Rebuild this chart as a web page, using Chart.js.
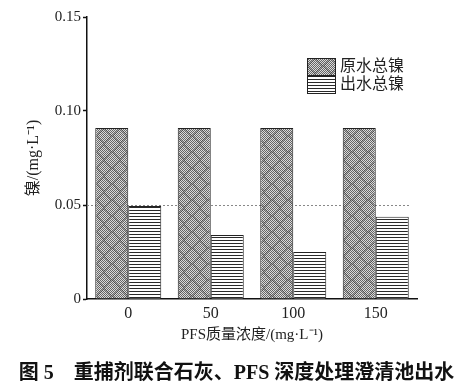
<!DOCTYPE html>
<html>
<head>
<meta charset="utf-8">
<script src="https://cdn.jsdelivr.net/npm/chart.js@4/dist/chart.umd.min.js"></script>
<style>
  html,body{margin:0;padding:0;background:#fff;}
  #wrap{position:relative;width:473px;height:389px;overflow:hidden;}
  #c{position:absolute;left:0;top:0;}
  .leg{position:absolute;left:307px;font-family:"Liberation Serif","Noto Sans CJK SC",serif;font-size:16px;color:#222;line-height:18px;}
  .leg canvas{position:absolute;left:0;top:0;}
  .leg span{position:absolute;left:33px;top:-1px;white-space:nowrap;}
  #cap{position:absolute;left:0;width:473px;top:359px;text-align:center;font-family:"Liberation Serif","Noto Sans CJK SC",serif;font-weight:bold;font-size:20px;color:#111;white-space:nowrap;line-height:26px;}
</style>
</head>
<body>
<div id="wrap">
  <canvas id="c" width="473" height="389"></canvas>
  <div class="leg" style="top:58px;"><canvas id="sw1" width="29" height="18"></canvas><span>原水总镍</span></div>
  <div class="leg" style="top:76px;"><canvas id="sw2" width="29" height="18"></canvas><span>出水总镍</span></div>
  <div id="cap">图 5　重捕剂联合石灰、PFS 深度处理澄清池出水</div>
</div>
<script>
// ---- data ----
const categories = ["0", "50", "100", "150"];
const rawNickel = [0.091, 0.091, 0.091, 0.091];      // 原水总镍
const outNickel = [0.0495, 0.034, 0.025, 0.0438];   // 出水总镍
const seriesNames = ["原水总镍", "出水总镍"];
const yTicks = [0, 0.05, 0.10, 0.15];
const refLine = 0.05;

// ---- patterns ----
function makeChecker() {
  const t = document.createElement('canvas');
  t.width = 16; t.height = 16;
  const g = t.getContext('2d');
  for (let y = 0; y < 16; y++) {
    for (let x = 0; x < 16; x++) {
      const d = Math.abs(x - 7.5) + Math.abs(y - 7.5);
      const chk = (x + y) % 2 === 0;
      let col;
      if (d > 6.5 && d < 9) col = chk ? '#505050' : '#a8a8a8';
      else col = chk ? '#666666' : '#dadada';
      g.fillStyle = col;
      g.fillRect(x, y, 1, 1);
    }
  }
  return t;
}
function makeLines() {
  const t = document.createElement('canvas');
  t.width = 4; t.height = 3;
  const g = t.getContext('2d');
  g.fillStyle = '#fff'; g.fillRect(0, 0, 4, 3);
  g.fillStyle = '#2a2a2a'; g.fillRect(0, 0, 4, 1);
  return t;
}
const ctx = document.getElementById('c').getContext('2d');
const patChecker = ctx.createPattern(makeChecker(), 'repeat');
const patLines = ctx.createPattern(makeLines(), 'repeat');

function drawSwatch(id, tile) {
  const cv = document.getElementById(id);
  const g = cv.getContext('2d');
  g.fillStyle = g.createPattern(tile, 'repeat');
  g.fillRect(0, 0, cv.width, cv.height);
  g.strokeStyle = '#222'; g.lineWidth = 1;
  g.strokeRect(0.5, 0.5, cv.width - 1, cv.height - 1);
}
drawSwatch('sw1', makeChecker());
drawSwatch('sw2', makeLines());

const refLinePlugin = {
  id: 'refLine',
  beforeDatasetsDraw(chart) {
    const y = chart.scales.y.getPixelForValue(refLine);
    const a = chart.chartArea;
    const c = chart.ctx;
    c.save();
    c.strokeStyle = '#888';
    c.lineWidth = 1;
    c.setLineDash([2, 2]);
    c.beginPath();
    c.moveTo(a.left, Math.round(y) + 0.5);
    c.lineTo(a.right - 7, Math.round(y) + 0.5);
    c.stroke();
    c.restore();
  }
};

const serif = "'Liberation Serif', 'Times New Roman', 'Noto Sans CJK SC', serif";

new Chart(ctx, {
  type: 'bar',
  data: {
    labels: categories,
    datasets: [
      { label: seriesNames[0], data: rawNickel, backgroundColor: patChecker, borderColor: '#222', borderWidth: 1,
        categoryPercentage: 0.8, barPercentage: 1.0 },
      { label: seriesNames[1], data: outNickel, backgroundColor: patLines, borderColor: '#222', borderWidth: 1,
        categoryPercentage: 0.8, barPercentage: 1.0 }
    ]
  },
  options: {
    responsive: false,
    animation: false,
    layout: { padding: { left: 0, right: 56, top: 17, bottom: 40 } },
    plugins: { legend: { display: false }, tooltip: { enabled: false } },
    scales: {
      x: {
        grid: { display: false, drawTicks: false },
        border: { display: true, color: '#111', width: 1.5 },
        ticks: { color: '#222', font: { family: serif, size: 16 }, padding: 5 },
        title: { display: true, text: 'PFS质量浓度/(mg·L⁻¹)', color: '#222',
                 font: { family: serif, size: 15 }, padding: { top: 0, bottom: 5 } },
        afterFit(s) { s.height = 50; }
      },
      y: {
        min: 0, max: 0.15,
        afterBuildTicks(s) { s.ticks = yTicks.map(v => ({ value: v })); },
        grid: { drawOnChartArea: false, drawTicks: true, tickLength: 4, color: '#111', tickWidth: 1.5 },
        border: { display: true, color: '#111', width: 1.5 },
        ticks: { color: '#222', font: { family: serif, size: 15 }, padding: 2,
                 callback: v => v === 0 ? '0' : v.toFixed(2) },
        title: { display: true, text: '镍/(mg·L⁻¹)', color: '#222',
                 font: { family: serif, size: 16 }, padding: { top: 24, bottom: 0 } },
        afterFit(s) { s.width = 87; }
      }
    }
  },
  plugins: [refLinePlugin]
});
</script>
</body>
</html>
